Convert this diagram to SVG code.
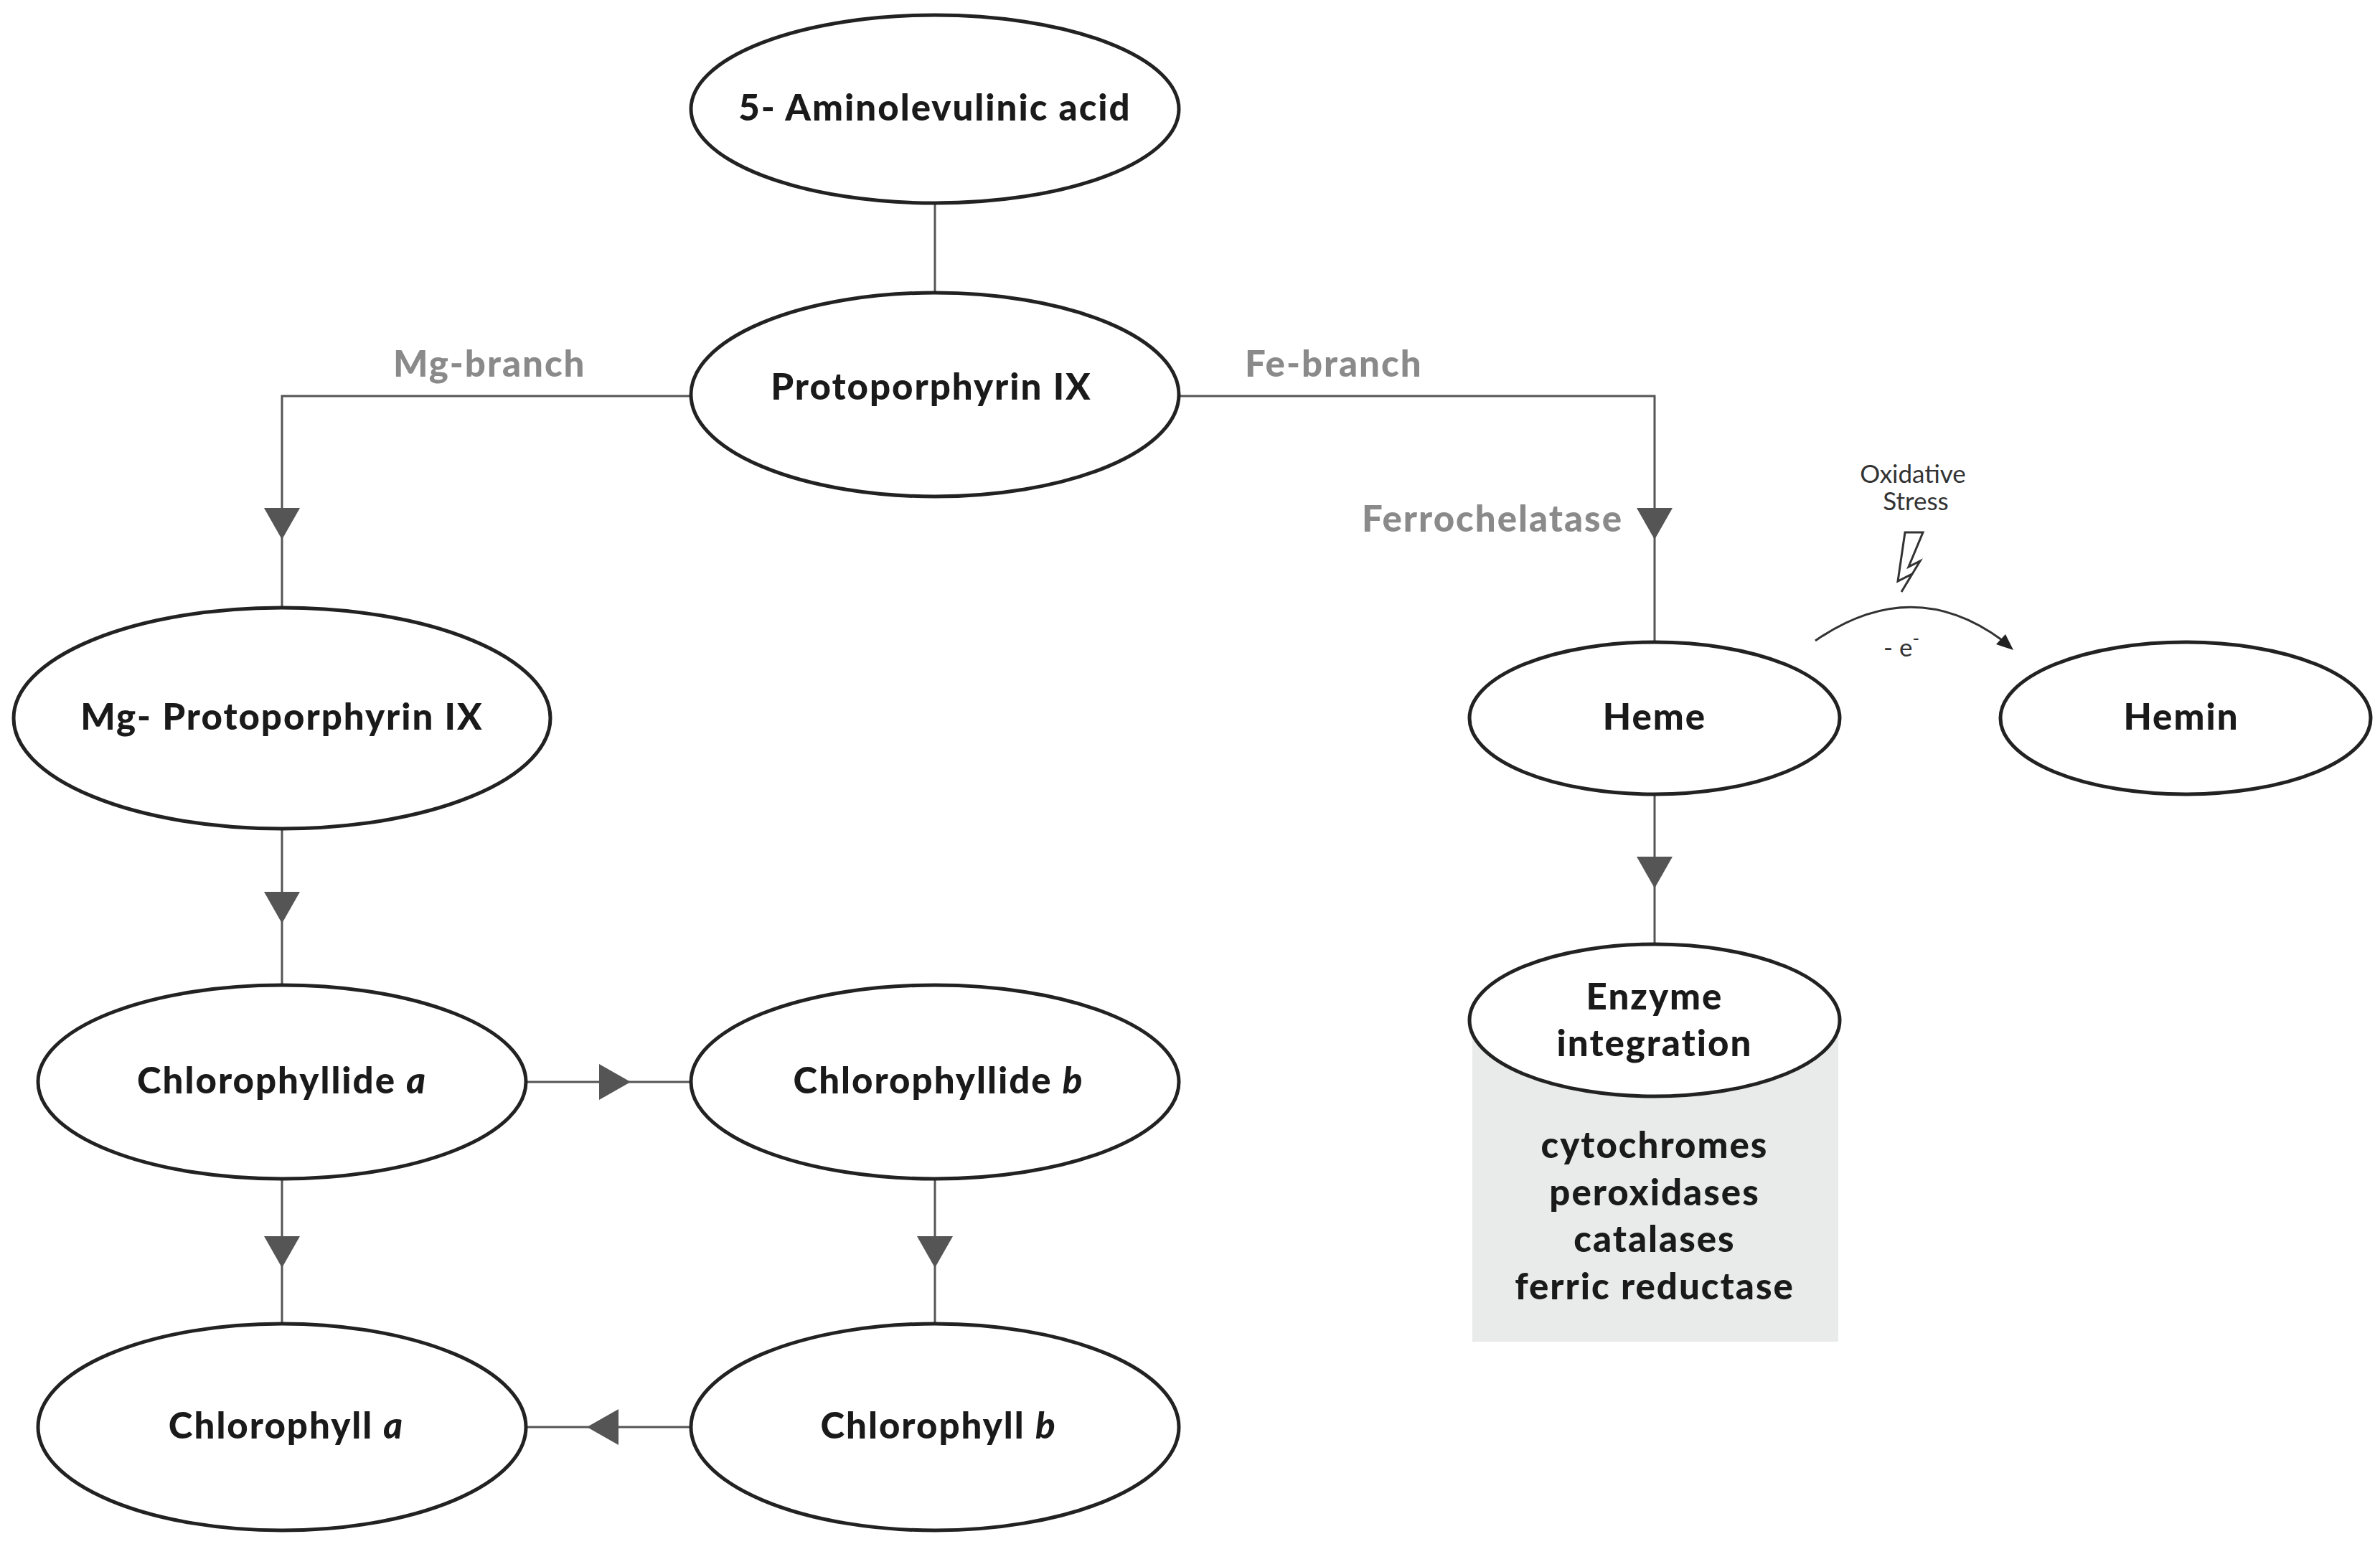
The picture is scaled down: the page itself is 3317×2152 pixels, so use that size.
<svg xmlns="http://www.w3.org/2000/svg" width="3317" height="2152" viewBox="0 0 3317 2152">
<style>
.n{fill:#fff;stroke:#222;stroke-width:5}
.t{font-family:Lato,"Liberation Sans",sans-serif;font-weight:900;font-size:51px;letter-spacing:2px;fill:#1a1a1a;text-anchor:middle}
.g{font-family:Lato,"Liberation Sans",sans-serif;font-weight:900;font-size:51px;letter-spacing:2px;fill:#8a8a8a}
.l{fill:none;stroke:#555;stroke-width:3}
.a{fill:#555}
.s{font-family:Lato,"Liberation Sans",sans-serif;font-size:35px;fill:#333;text-anchor:middle}
</style>
<rect x="0" y="0" width="3317" height="2152" fill="#fff"/>
<rect x="2052" y="1422" width="510" height="448" fill="#e9ebea"/>
<g id="connectors">
<path class="l" d="M1303 283V408"/>
<path class="l" d="M963 552H393V846"/>
<path class="l" d="M1642 552H2306V895"/>
<path class="l" d="M393 1155V1373"/>
<path class="l" d="M734 1508H963"/>
<path class="l" d="M393 1643V1845"/>
<path class="l" d="M1303 1643V1845"/>
<path class="l" d="M963 1989H734"/>
<path class="l" d="M2306 1107V1316"/>
<polygon class="a" points="368,708 418,708 393,752"/>
<polygon class="a" points="2281,708 2331,708 2306,752"/>
<polygon class="a" points="368,1243 418,1243 393,1287"/>
<polygon class="a" points="368,1723 418,1723 393,1767"/>
<polygon class="a" points="1278,1723 1328,1723 1303,1767"/>
<polygon class="a" points="2281,1194 2331,1194 2306,1238"/>
<polygon class="a" points="835,1483 835,1533 879,1508"/>
<polygon class="a" points="862,1964 862,2014 818,1989"/>
<path fill="none" stroke="#333" stroke-width="3" d="M2530 893Q2665 800 2790 892"/>
<polygon fill="#222" points="2806,906 2782,898 2795,884"/>
<path fill="none" stroke="#333" stroke-width="3" d="M2655 742L2645 810L2665 800L2650 825L2676 782L2660 790L2680 742Z"/>
</g>
<text class="g" x="548" y="525">Mg-branch</text>
<text class="g" x="1735" y="525">Fe-branch</text>
<text class="g" x="2262" y="741" text-anchor="end">Ferrochelatase</text>
<text class="s" x="2666" y="673">Oxidative</text>
<text class="s" x="2670" y="711">Stress</text>
<text class="s" x="2650" y="915" font-size="44">- e<tspan dy="-16" font-size="26">-</tspan></text>
<g id="ala"><ellipse class="n" cx="1303" cy="152" rx="340" ry="131"/><text class="t" x="1303" y="168">5- Aminolevulinic acid</text></g>
<g id="proto"><ellipse class="n" cx="1303" cy="550" rx="340" ry="142"/><text class="t" x="1298" y="557">Protoporphyrin IX</text></g>
<g id="mgproto"><ellipse class="n" cx="393" cy="1001" rx="374" ry="154"/><text class="t" x="393" y="1017">Mg- Protoporphyrin IX</text></g>
<g id="chlidea"><ellipse class="n" cx="393" cy="1508" rx="340" ry="135"/><text class="t" x="393" y="1524">Chlorophyllide <tspan font-style="italic">a</tspan></text></g>
<g id="chlideb"><ellipse class="n" cx="1303" cy="1508" rx="340" ry="135"/><text class="t" x="1308" y="1524">Chlorophyllide <tspan font-style="italic">b</tspan></text></g>
<g id="chla"><ellipse class="n" cx="393" cy="1989" rx="340" ry="144"/><text class="t" x="399" y="2005">Chlorophyll <tspan font-style="italic">a</tspan></text></g>
<g id="chlb"><ellipse class="n" cx="1303" cy="1989" rx="340" ry="144"/><text class="t" x="1308" y="2005">Chlorophyll <tspan font-style="italic">b</tspan></text></g>
<g id="heme"><ellipse class="n" cx="2306" cy="1001" rx="258" ry="106"/><text class="t" x="2306" y="1017">Heme</text></g>
<g id="hemin"><ellipse class="n" cx="3046" cy="1001" rx="258" ry="106"/><text class="t" x="3040" y="1017">Hemin</text></g>
<g id="enzyme"><ellipse class="n" cx="2306" cy="1422" rx="258" ry="106"/><text class="t" x="2306" y="1407">Enzyme</text><text class="t" x="2306" y="1472">integration</text>
<text class="t" x="2306" y="1614">cytochromes</text><text class="t" x="2306" y="1680">peroxidases</text><text class="t" x="2306" y="1745">catalases</text><text class="t" x="2306" y="1811">ferric reductase</text></g>
</svg>
